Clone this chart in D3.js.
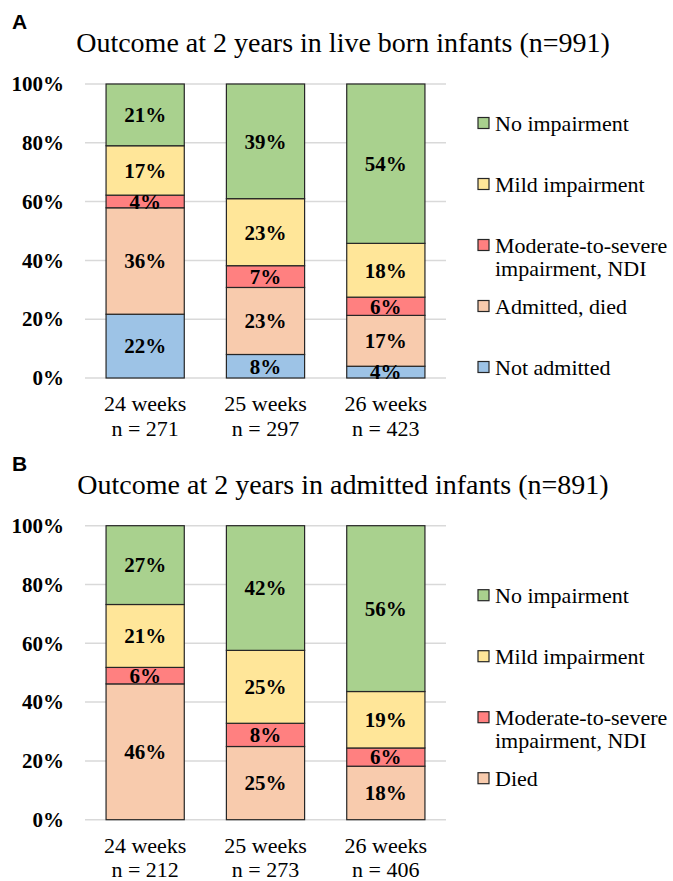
<!DOCTYPE html>
<html>
<head>
<meta charset="utf-8">
<script src="https://cdn.jsdelivr.net/npm/d3@7"></script>
<style>
  body { margin: 0; background: #fff; }
  svg { display: block; }
</style>
</head>
<body>
<svg id="chart"></svg>
<script>
// categories
var weeks = ["24 weeks", "25 weeks", "26 weeks"];
var nLiveBorn = [271, 297, 423];
var nAdmitted = [212, 273, 406];

// panel A - live born (percent, bottom to top)
var liveNotAdmitted = [21.7, 8.0, 4.0];
var liveDied        = [36.2, 22.8, 17.3];
var liveNDI         = [4.3, 7.4, 6.2];
var liveMild        = [16.8, 22.8, 18.3];
var liveNone        = [21.0, 39.0, 54.2];

// panel B - admitted (percent, bottom to top)
var admDied = [46.2, 24.9, 18.2];
var admNDI  = [5.6, 7.9, 6.2];
var admMild = [21.4, 24.8, 19.2];
var admNone = [26.8, 42.4, 56.4];

var yTicks = [0, 20, 40, 60, 80, 100];

var colors = {
  notAdmitted: "#9dc3e6",
  died: "#f8cbad",
  ndi: "#ff8080",
  mild: "#ffe699",
  none: "#a9d18e"
};

var W = 673, H = 881;
var serif = "'Liberation Serif', 'Times New Roman', serif";
var sans = "'Liberation Sans', Arial, sans-serif";

var svg = d3.select("#chart").attr("width", W).attr("height", H)
  .style("background", "#fff");

function drawPanel(p) {
  var g = svg.append("g").attr("transform", "translate(0," + p.offset + ")");
  var top = 84, bottom = 378;

  var rows = weeks.map(function (w, i) {
    var r = { week: w, n: p.n[i] };
    p.series.forEach(function (s) { r[s.key] = s.values[i] });
    return r;
  });
  var keys = p.series.map(function (s) { return s.key });
  var stacked = d3.stack().keys(keys)(rows);

  var x = d3.scaleBand().domain(weeks).range([85, 446])
    .paddingInner(0.35).paddingOuter(0.175);
  var y = d3.scaleLinear().domain([0, 100]).range([bottom, top]);

  // panel letter + title
  g.append("text").attr("x", 12).attr("y", 29)
    .attr("font-family", sans).attr("font-weight", "bold").attr("font-size", 21)
    .text(p.letter);
  g.append("text").attr("x", 343).attr("y", 52).attr("text-anchor", "middle")
    .attr("font-family", serif).attr("font-size", 28)
    .text(p.title);

  // gridlines
  g.append("g").selectAll("line").data(yTicks).enter().append("line")
    .attr("x1", 85).attr("x2", 446)
    .attr("y1", function (d) { return y(d) }).attr("y2", function (d) { return y(d) })
    .attr("stroke", "#d9d9d9").attr("stroke-width", 1.5);

  // y axis labels
  var yAxis = d3.axisLeft(y).tickValues(yTicks).tickSize(0).tickPadding(21)
    .tickFormat(function (d) { return d + "%" });
  var ya = g.append("g").attr("transform", "translate(85,0)").call(yAxis);
  ya.select(".domain").remove();
  ya.selectAll("text").attr("font-family", serif).attr("font-weight", "bold")
    .attr("font-size", 21).attr("fill", "#000");

  // bars
  var layers = g.append("g").selectAll("g").data(stacked).enter().append("g")
    .attr("fill", function (d) { return p.series[d.index].color });
  layers.selectAll("rect").data(function (d) { return d }).enter().append("rect")
    .attr("x", function (d) { return x(d.data.week) })
    .attr("width", x.bandwidth())
    .attr("y", function (d) { return y(d[1]) })
    .attr("height", function (d) { return y(d[0]) - y(d[1]) })
    .attr("stroke", "#262626").attr("stroke-width", 1.2);

  // value labels
  var lab = g.append("g");
  stacked.forEach(function (layer) {
    lab.selectAll(null).data(layer).enter().append("text")
      .attr("x", function (d) { return x(d.data.week) + x.bandwidth() / 2 })
      .attr("y", function (d) { return (y(d[0]) + y(d[1])) / 2 })
      .attr("dy", "0.35em").attr("text-anchor", "middle")
      .attr("font-family", serif).attr("font-weight", "bold").attr("font-size", 21)
      .text(function (d) { return Math.round(d[1] - d[0]) + "%" });
  });

  // x axis labels (two lines)
  var xl = g.append("g").selectAll("text").data(rows).enter().append("text")
    .attr("text-anchor", "middle").attr("font-family", serif).attr("font-size", 22)
    .attr("x", function (d) { return x(d.week) + x.bandwidth() / 2 })
    .attr("y", bottom + 33);
  xl.append("tspan").text(function (d) { return d.week });
  xl.append("tspan").attr("x", function (d) { return x(d.week) + x.bandwidth() / 2 })
    .attr("dy", 24.5).text(function (d) { return "n = " + d.n });

  // legend, top to bottom = reverse of stack
  var leg = p.series.slice().reverse();
  var spacing = 61;
  var mid = (top + bottom) / 2 + 14;
  var start = mid - spacing * (leg.length - 1) / 2;
  var items = g.append("g").selectAll("g").data(leg).enter().append("g")
    .attr("transform", function (d, i) { return "translate(478," + (start + i * spacing) + ")" });
  items.append("rect").attr("x", 0).attr("y", -5.5).attr("width", 11).attr("height", 11)
    .attr("fill", function (d) { return d.color }).attr("stroke", "#262626").attr("stroke-width", 1.2);
  var lt = items.append("text").attr("x", 17).attr("y", 0)
    .attr("font-family", serif).attr("font-size", 22);
  lt.selectAll("tspan").data(function (d) { return d.label.split("\n") }).enter().append("tspan")
    .attr("x", 17).attr("dy", function (d, i) { return i === 0 ? "0.35em" : 23 })
    .text(function (d) { return d });
}

drawPanel({
  offset: 0,
  letter: "A",
  title: "Outcome at 2 years in live born infants (n=991)",
  n: nLiveBorn,
  series: [
    { key: "notAdmitted", label: "Not admitted", values: liveNotAdmitted, color: colors.notAdmitted },
    { key: "died", label: "Admitted, died", values: liveDied, color: colors.died },
    { key: "ndi", label: "Moderate-to-severe\nimpairment, NDI", values: liveNDI, color: colors.ndi },
    { key: "mild", label: "Mild impairment", values: liveMild, color: colors.mild },
    { key: "none", label: "No impairment", values: liveNone, color: colors.none }
  ]
});

drawPanel({
  offset: 441.7,
  letter: "B",
  title: "Outcome at 2 years in admitted infants (n=891)",
  n: nAdmitted,
  series: [
    { key: "died", label: "Died", values: admDied, color: colors.died },
    { key: "ndi", label: "Moderate-to-severe\nimpairment, NDI", values: admNDI, color: colors.ndi },
    { key: "mild", label: "Mild impairment", values: admMild, color: colors.mild },
    { key: "none", label: "No impairment", values: admNone, color: colors.none }
  ]
});
</script>
</body>
</html>
